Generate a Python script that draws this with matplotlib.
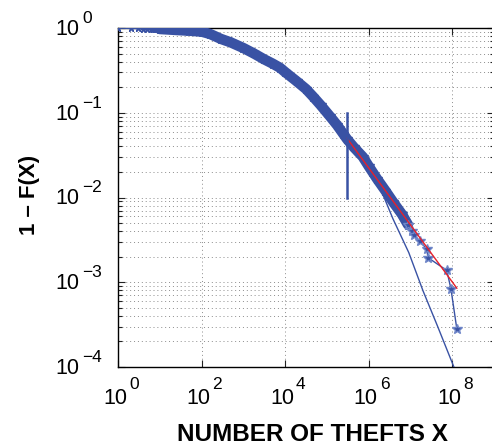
import matplotlib
matplotlib.use("Agg")
import matplotlib.pyplot as plt
import numpy as np
from matplotlib.ticker import LogLocator, NullLocator
from matplotlib.transforms import blended_transform_factory, offset_copy

plt.rcParams['font.family'] = ['Liberation Sans', 'DejaVu Sans']

head_x = [1, 2, 3, 4, 5, 6, 7, 8, 9, 10]
head_logy = [0.0, -0.003, -0.005, -0.007, -0.008, -0.009, -0.010, -0.011, -0.012, -0.012]

body_logx = [1.0, 1.4, 1.7, 2.0, 2.2, 2.47, 2.7, 3.0, 3.25, 3.5, 3.7, 3.88, 4.0, 4.28,
             4.5, 4.67, 4.85, 5.07, 5.25, 5.48, 5.65, 5.86, 6.0, 6.2, 6.4, 6.58, 6.8, 6.94]
body_logy = [-0.012, -0.024, -0.032, -0.043, -0.07, -0.13, -0.17, -0.236, -0.30, -0.37,
             -0.42, -0.47, -0.52, -0.63, -0.72, -0.81, -0.91, -1.04, -1.15, -1.31, -1.41,
             -1.52, -1.63, -1.78, -1.92, -2.05, -2.2, -2.32]

tail_logx = [6.94, 7.03, 7.08, 7.22, 7.39, 7.42, 7.87, 7.97, 8.11]
tail_logy = [-2.32, -2.40, -2.44, -2.51, -2.61, -2.71, -2.86, -3.08, -3.55]

# power-law fit (red) and alternative fit (thin blue)
xmin = 3.0e5
xmin_bar = [0.01, 0.1]
pl_logx = [5.48, 8.11]
pl_logy = [-1.30, -3.07]
alt_logx = [5.48, 5.9, 6.27, 6.58, 6.96, 7.30, 7.65, 8.04, 8.2]
alt_logy = [-1.31, -1.55, -1.88, -2.25, -2.65, -3.10, -3.52, -4.0, -4.2]

x_exps = [0, 2, 4, 6, 8]
y_exps = [0, -1, -2, -3, -4]

blue = '#3952a4'
red = '#e8202a'

fig = plt.figure(figsize=(4.92, 4.47), dpi=100)
ax = fig.add_axes([118 / 492, 80 / 447, 376 / 492, 339 / 447])

bx = 10 ** np.array(body_logx)
by = 10 ** np.array(body_logy)
hx = np.array(head_x, dtype=float)
hy = 10 ** np.array(head_logy)
tx = 10 ** np.array(tail_logx)
ty = 10 ** np.array(tail_logy)

ax.plot(hx, hy, '-', color=blue, lw=1.2, marker='*', ms=5, zorder=3)
ax.plot(bx, by, '-', color=blue, lw=7.5, solid_capstyle='round', zorder=3)
ax.plot(bx, by, '*', color=blue, ms=7, zorder=3)
ax.plot(tx, ty, '-', color=blue, lw=1.0, marker='*', ms=7, mec='#6f86c8', zorder=4)

ax.plot(10 ** np.array(alt_logx), 10 ** np.array(alt_logy), '-', color=blue, lw=1.0, zorder=5)
ax.plot(10 ** np.array(pl_logx), 10 ** np.array(pl_logy), '-', color=red, lw=1.0, zorder=6)
ax.plot([xmin, xmin], xmin_bar, '-', color=blue, lw=1.8, zorder=6)

ax.set_xscale('log')
ax.set_yscale('log')
ax.set_xlim(1, 1e9)
ax.set_ylim(1e-4, 1)

ax.xaxis.set_major_locator(LogLocator(base=100))
ax.xaxis.set_minor_locator(NullLocator())
ax.yaxis.set_major_locator(LogLocator(base=10))
ax.yaxis.set_minor_locator(LogLocator(base=10, subs=np.arange(2, 10)))

ax.grid(which='major', linestyle=(0, (1, 3)), color='#8c8c8c', lw=0.7)
ax.grid(which='minor', axis='y', linestyle=(0, (1, 3)), color='#8c8c8c', lw=0.7)

ax.tick_params(which='both', direction='in', top=True, right=True,
               labelbottom=False, labelleft=False, width=0.8, color='#222222')
ax.tick_params(which='major', length=5)
ax.tick_params(which='minor', length=3)
for s in ax.spines.values():
    s.set_linewidth(1.0)

# MATLAB style tick labels: "10" with a big, raised exponent
ytr = blended_transform_factory(fig.transFigure, ax.transData)
for e in y_exps:
    fig.text(79 / 492, 10.0 ** e, '10', fontsize=15.5, ha='right', va='baseline',
             transform=offset_copy(ytr, fig=fig, y=-7, units='dots'))
    fig.text(82 / 492, 10.0 ** e, str(e).replace('-', '\u2212'), fontsize=12.5,
             ha='left', va='baseline',
             transform=offset_copy(ytr, fig=fig, y=5, units='dots'))

xtr = blended_transform_factory(ax.transData, ax.transAxes)
for e in x_exps:
    fig.text(10.0 ** e, 0, '10', fontsize=15.5, ha='right', va='baseline',
             transform=offset_copy(xtr, fig=fig, x=9, y=-37, units='dots'))
    fig.text(10.0 ** e, 0, str(e), fontsize=12.5, ha='left', va='baseline',
             transform=offset_copy(xtr, fig=fig, x=11, y=-22, units='dots'))

ax.set_xlabel('NUMBER OF THEFTS X', fontsize=17.5, fontweight='bold')
ax.xaxis.label.set_va('baseline')
ax.xaxis.set_label_coords(194.5 / 376, -74 / 339)
ax.set_ylabel('1 – F(X)', fontsize=16, fontweight='bold')
ax.yaxis.label.set_va('center')
ax.yaxis.set_label_coords(-88 / 376, 0.507)

fig.savefig('out.png', dpi=100)
